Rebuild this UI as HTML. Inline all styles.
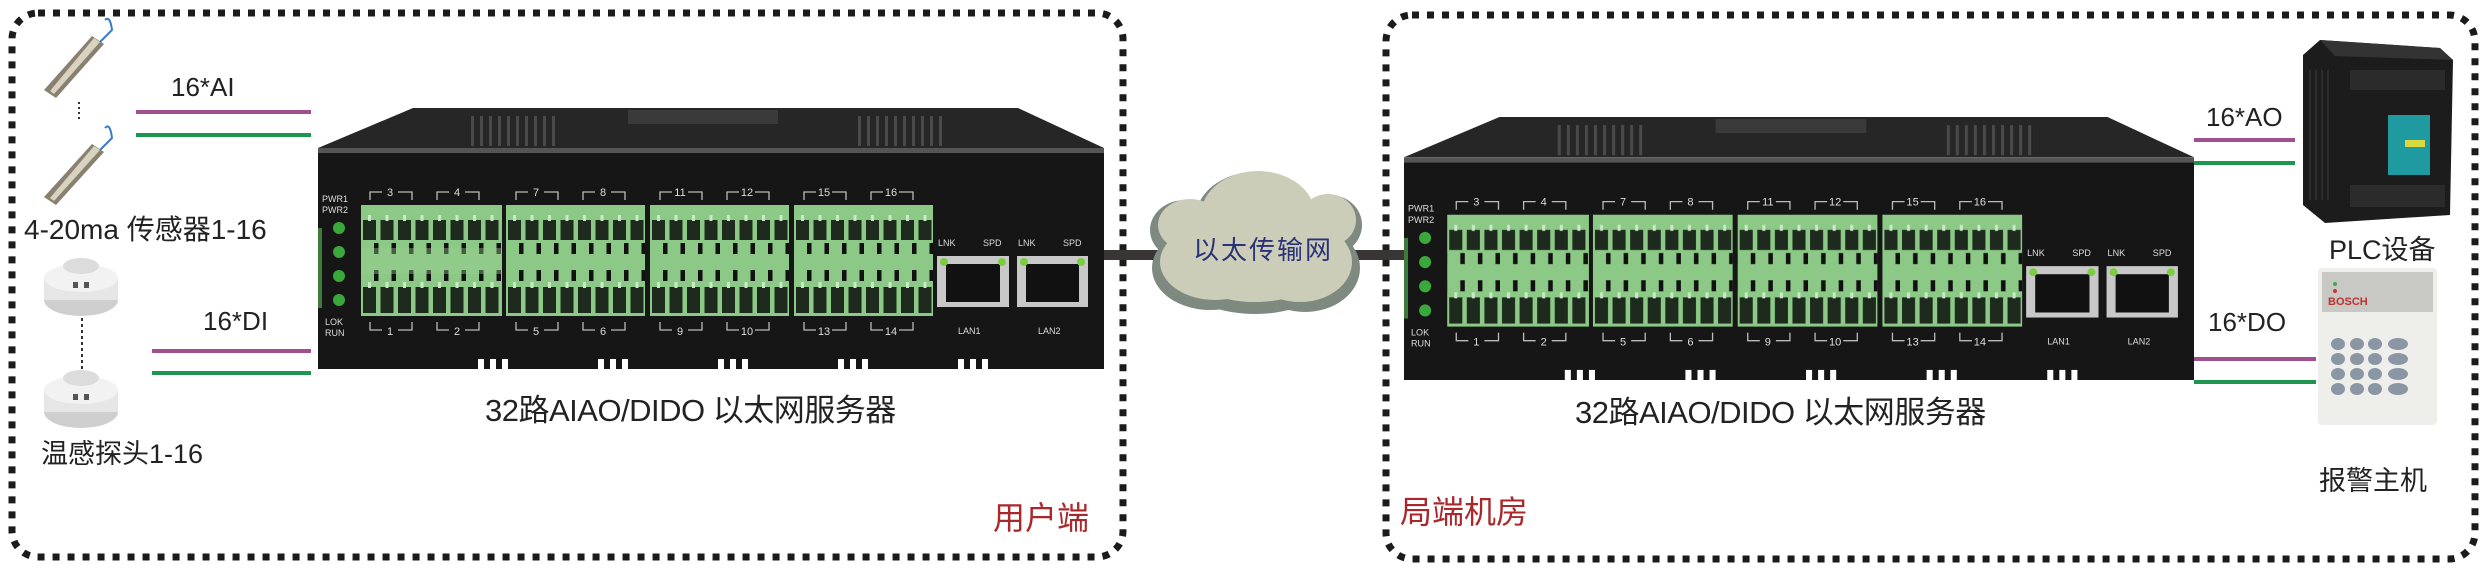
<!DOCTYPE html>
<html><head><meta charset="utf-8"><style>
html,body{margin:0;padding:0;background:#fff;}
body{width:2490px;height:573px;position:relative;overflow:hidden;font-family:"Liberation Sans","Noto Sans CJK SC",sans-serif;}
.t{position:absolute;white-space:nowrap;line-height:1;color:#222;}
svg{position:absolute;}
</style></head><body>

<svg width="2490" height="573" style="left:0;top:0">
  <rect x="12" y="13" width="1111" height="544" rx="26" fill="none" stroke="#1d1a1a" stroke-width="7" stroke-dasharray="7 8"/>
  <rect x="1386" y="15" width="1089" height="544" rx="26" fill="none" stroke="#1d1a1a" stroke-width="7" stroke-dasharray="7 8"/>
  <!-- connecting line -->
  <rect x="1100" y="250" width="310" height="10" fill="#3a3535"/>
  <!-- left signal lines -->
  <rect x="136" y="110" width="175" height="4" fill="#a0508c"/>
  <rect x="136" y="133" width="175" height="4" fill="#1f9650"/>
  <rect x="152" y="349" width="159" height="4" fill="#a0508c"/>
  <rect x="152" y="371" width="159" height="4" fill="#1f9650"/>
  <!-- right signal lines -->
  <rect x="2194" y="138" width="101" height="4" fill="#a0508c"/>
  <rect x="2194" y="161" width="101" height="4" fill="#1f9650"/>
  <rect x="2194" y="357" width="122" height="4" fill="#a0508c"/>
  <rect x="2194" y="380" width="122" height="4" fill="#1f9650"/>
  <!-- cloud -->
  <g>
    <g fill="#7e8a80">
      <ellipse cx="1210" cy="268" rx="58" ry="42"/><ellipse cx="1305" cy="268" rx="55" ry="44"/>
      <ellipse cx="1255" cy="220" rx="60" ry="48"/><ellipse cx="1330" cy="225" rx="32" ry="30"/>
      <ellipse cx="1185" cy="230" rx="35" ry="30"/><ellipse cx="1255" cy="290" rx="60" ry="24"/>
    </g>
    <g fill="#cccdb8">
      <ellipse cx="1215" cy="262" rx="55" ry="38"/><ellipse cx="1300" cy="262" rx="52" ry="40"/>
      <ellipse cx="1258" cy="215" rx="57" ry="44"/><ellipse cx="1328" cy="220" rx="28" ry="26"/>
      <ellipse cx="1190" cy="225" rx="32" ry="26"/><ellipse cx="1255" cy="280" rx="55" ry="22"/>
    </g>
  </g>
  <!-- sensor probes -->
  <g>
    <path d="M105 20 Q110 15 112 30 L100 42" stroke="#3a7ac8" stroke-width="2" fill="none"/>
    <polygon points="92,36 104,44 56,98 44,90" fill="#8a8070"/>
    <polygon points="94,38 100,42 54,94 50,91" fill="#d8d2c0"/>
    <path d="M105 128 Q110 122 112 138 L100 150" stroke="#3a7ac8" stroke-width="2" fill="none"/>
    <polygon points="92,144 104,152 56,205 44,197" fill="#8a8070"/>
    <polygon points="94,146 100,150 54,201 50,198" fill="#d8d2c0"/>
    <line x1="79" y1="102" x2="79" y2="121" stroke="#333" stroke-width="2" stroke-dasharray="2 3"/>
    <!-- smoke detectors -->
    <ellipse cx="81" cy="300" rx="37" ry="16" fill="#cfcfcf"/>
    <rect x="44" y="278" width="74" height="22" fill="#e6e6e6"/>
    <ellipse cx="81" cy="278" rx="37" ry="14" fill="#f2f2f2"/>
    <ellipse cx="81" cy="266" rx="18" ry="8" fill="#dcdcdc"/>
    <rect x="73" y="282" width="5" height="6" fill="#555"/><rect x="84" y="282" width="5" height="6" fill="#555"/>
    <ellipse cx="81" cy="412" rx="37" ry="16" fill="#cfcfcf"/>
    <rect x="44" y="390" width="74" height="22" fill="#e6e6e6"/>
    <ellipse cx="81" cy="390" rx="37" ry="14" fill="#f2f2f2"/>
    <ellipse cx="81" cy="378" rx="18" ry="8" fill="#dcdcdc"/>
    <rect x="73" y="394" width="5" height="6" fill="#555"/><rect x="84" y="394" width="5" height="6" fill="#555"/>
    <line x1="82" y1="318" x2="82" y2="369" stroke="#333" stroke-width="2" stroke-dasharray="3 3"/>
  </g>
  <!-- PLC -->
  <g>
    <polygon points="2303,55 2320,40 2440,48 2453,60 2450,215 2325,223 2303,205" fill="#1c1c1c"/>
    <polygon points="2320,40 2440,48 2453,60 2335,56" fill="#333"/>
    <rect x="2350" y="70" width="95" height="20" fill="#2b2b2b"/>
    <rect x="2350" y="185" width="95" height="22" fill="#2b2b2b"/>
    <rect x="2388" y="115" width="42" height="60" fill="#1e9aa0"/>
    <rect x="2405" y="140" width="20" height="7" fill="#d8d840"/>
    <g stroke="#333" stroke-width="1.5"><line x1="2310" y1="70" x2="2310" y2="200"/><line x1="2316" y1="70" x2="2316" y2="200"/><line x1="2322" y1="70" x2="2322" y2="200"/><line x1="2328" y1="70" x2="2328" y2="200"/></g>
  </g>
  <!-- alarm panel -->
  <g>
    <rect x="2318" y="268" width="119" height="157" rx="4" fill="#eeeeea"/>
    <rect x="2322" y="272" width="111" height="40" fill="#c8c8c4"/>
    <circle cx="2335" cy="284" r="2" fill="#4a4"/><circle cx="2335" cy="291" r="2" fill="#c33"/>
    <g fill="#8a96a4">
      <ellipse cx="2338" cy="344" rx="7" ry="6"/><ellipse cx="2357" cy="344" rx="7" ry="6"/><ellipse cx="2375" cy="344" rx="7" ry="6"/><ellipse cx="2398" cy="344" rx="10" ry="6"/>
      <ellipse cx="2338" cy="359" rx="7" ry="6"/><ellipse cx="2357" cy="359" rx="7" ry="6"/><ellipse cx="2375" cy="359" rx="7" ry="6"/><ellipse cx="2398" cy="359" rx="10" ry="6"/>
      <ellipse cx="2338" cy="374" rx="7" ry="6"/><ellipse cx="2357" cy="374" rx="7" ry="6"/><ellipse cx="2375" cy="374" rx="7" ry="6"/><ellipse cx="2398" cy="374" rx="10" ry="6"/>
      <ellipse cx="2338" cy="389" rx="7" ry="6"/><ellipse cx="2357" cy="389" rx="7" ry="6"/><ellipse cx="2375" cy="389" rx="7" ry="6"/><ellipse cx="2398" cy="389" rx="10" ry="6"/>
    </g>
  </g>
  <text x="2328" y="305" font-family="Liberation Sans" font-weight="bold" font-size="11" fill="#c03030">BOSCH</text>
</svg>

<!-- device template (left) -->
<svg style="left:318px;top:108px" width="786" height="261" viewBox="0 0 786 261" preserveAspectRatio="none">
  <defs>
    <pattern id="term" width="17.5" height="120" patternUnits="userSpaceOnUse">
      <rect x="2" y="15" width="13" height="20" fill="#1f2a1f"/>
      <rect x="2" y="82" width="13" height="26" fill="#1f2a1f"/>
      <rect x="7" y="10" width="3" height="6" fill="#c8eac4"/>
      <rect x="7" y="77" width="3" height="6" fill="#c8eac4"/>
    </pattern>
    <pattern id="hole" width="17.5" height="120" patternUnits="userSpaceOnUse">
      <rect x="13" y="38" width="10" height="11" fill="#111"/>
      <rect x="13" y="65" width="10" height="11" fill="#111"/>
    </pattern>
    <pattern id="rib" width="9" height="42" patternUnits="userSpaceOnUse">
      <rect x="0" y="0" width="3" height="42" fill="#4a4a4a"/>
    </pattern>
  </defs>
  <polygon points="95,0 700,0 786,40 0,40" fill="#262626"/>
  <rect x="150" y="8" width="90" height="30" fill="url(#rib)"/>
  <rect x="540" y="8" width="90" height="30" fill="url(#rib)"/>
  <rect x="310" y="2" width="150" height="14" fill="#3a3a3a"/>
  <rect x="0" y="40" width="786" height="5" fill="#555"/>
  <rect x="0" y="45" width="786" height="216" fill="#161616"/>
  <rect x="-2" y="120" width="6" height="80" fill="#3e7a3a"/>
  <g transform="translate(43,97)"><rect width="141" height="111" fill="#8cc886"/><rect width="141" height="111" fill="url(#term)"/><rect width="141" height="111" fill="url(#hole)"/><rect y="43" width="141" height="26" fill="#97cf90" opacity=".4"/></g>
  <g transform="translate(188,97)"><rect width="139" height="111" fill="#8cc886"/><rect width="139" height="111" fill="url(#term)"/><rect width="139" height="111" fill="url(#hole)"/></g>
  <g transform="translate(332,97)"><rect width="139" height="111" fill="#8cc886"/><rect width="139" height="111" fill="url(#term)"/><rect width="139" height="111" fill="url(#hole)"/></g>
  <g transform="translate(476,97)"><rect width="139" height="111" fill="#8cc886"/><rect width="139" height="111" fill="url(#term)"/><rect width="139" height="111" fill="url(#hole)"/></g>
  <g fill="#3aa83a"><circle cx="21" cy="120" r="6"/><circle cx="21" cy="144" r="6"/><circle cx="21" cy="168" r="6"/><circle cx="21" cy="192" r="6"/></g>
  <g font-family="Liberation Sans" font-size="9" fill="#ddd">
    <text x="4" y="94">PWR1</text><text x="4" y="105">PWR2</text>
    <text x="7" y="217">LOK</text><text x="7" y="228">RUN</text>
    <text x="620" y="138">LNK</text><text x="665" y="138">SPD</text><text x="700" y="138">LNK</text><text x="745" y="138">SPD</text>
    <text x="640" y="226">LAN1</text><text x="720" y="226">LAN2</text>
  </g>
  <g fill="#c8c8c8"><rect x="619" y="148" width="72" height="51"/><rect x="699" y="148" width="71" height="51"/></g>
  <g fill="#111"><rect x="628" y="156" width="54" height="38"/><rect x="708" y="156" width="53" height="38"/></g>
  <g fill="#7ccc40"><circle cx="626" cy="154" r="4"/><circle cx="684" cy="154" r="4"/><circle cx="706" cy="154" r="4"/><circle cx="763" cy="154" r="4"/></g>
  <g stroke="#bbb" stroke-width="1.3" fill="none">
    <path d="M52 92 V84 H64 M80 84 H94 V92"/><path d="M119 92 V84 H131 M147 84 H161 V92"/>
    <path d="M198 92 V84 H210 M226 84 H240 V92"/><path d="M265 92 V84 H277 M293 84 H307 V92"/>
    <path d="M342 92 V84 H354 M370 84 H384 V92"/><path d="M409 92 V84 H421 M437 84 H451 V92"/>
    <path d="M486 92 V84 H498 M514 84 H528 V92"/><path d="M553 92 V84 H565 M581 84 H595 V92"/>
    <path d="M52 214 V222 H64 M80 222 H94 V214"/><path d="M119 214 V222 H131 M147 222 H161 V214"/>
    <path d="M198 214 V222 H210 M226 222 H240 V214"/><path d="M265 214 V222 H277 M293 222 H307 V214"/>
    <path d="M342 214 V222 H354 M370 222 H384 V214"/><path d="M409 214 V222 H421 M437 222 H451 V214"/>
    <path d="M486 214 V222 H498 M514 222 H528 V214"/><path d="M553 214 V222 H565 M581 222 H595 V214"/>
  </g>
  <g font-family="Liberation Sans" font-size="11" fill="#ddd" text-anchor="middle">
    <text x="72" y="88">3</text><text x="139" y="88">4</text><text x="218" y="88">7</text><text x="285" y="88">8</text>
    <text x="362" y="88">11</text><text x="429" y="88">12</text><text x="506" y="88">15</text><text x="573" y="88">16</text>
    <text x="72" y="227">1</text><text x="139" y="227">2</text><text x="218" y="227">5</text><text x="285" y="227">6</text>
    <text x="362" y="227">9</text><text x="429" y="227">10</text><text x="506" y="227">13</text><text x="573" y="227">14</text>
  </g>
  <g fill="#fff"><rect x="160" y="251" width="6" height="10"/><rect x="172" y="251" width="6" height="10"/><rect x="184" y="251" width="6" height="10"/><rect x="280" y="251" width="6" height="10"/><rect x="292" y="251" width="6" height="10"/><rect x="304" y="251" width="6" height="10"/><rect x="400" y="251" width="6" height="10"/><rect x="412" y="251" width="6" height="10"/><rect x="424" y="251" width="6" height="10"/><rect x="520" y="251" width="6" height="10"/><rect x="532" y="251" width="6" height="10"/><rect x="544" y="251" width="6" height="10"/><rect x="640" y="251" width="6" height="10"/><rect x="652" y="251" width="6" height="10"/><rect x="664" y="251" width="6" height="10"/></g>
</svg>

<!-- device (right) -->
<svg style="left:1404px;top:117px" width="790" height="263" viewBox="0 0 786 261" preserveAspectRatio="none">
  <polygon points="95,0 700,0 786,40 0,40" fill="#262626"/>
  <rect x="150" y="8" width="90" height="30" fill="url(#rib)"/>
  <rect x="540" y="8" width="90" height="30" fill="url(#rib)"/>
  <rect x="310" y="2" width="150" height="14" fill="#3a3a3a"/>
  <rect x="0" y="40" width="786" height="5" fill="#555"/>
  <rect x="0" y="45" width="786" height="216" fill="#161616"/>
  <rect x="-2" y="120" width="6" height="80" fill="#3e7a3a"/>
  <g transform="translate(43,97)"><rect width="141" height="111" fill="#8cc886"/><rect width="141" height="111" fill="url(#term)"/><rect width="141" height="111" fill="url(#hole)"/></g>
  <g transform="translate(188,97)"><rect width="139" height="111" fill="#8cc886"/><rect width="139" height="111" fill="url(#term)"/><rect width="139" height="111" fill="url(#hole)"/></g>
  <g transform="translate(332,97)"><rect width="139" height="111" fill="#8cc886"/><rect width="139" height="111" fill="url(#term)"/><rect width="139" height="111" fill="url(#hole)"/></g>
  <g transform="translate(476,97)"><rect width="139" height="111" fill="#8cc886"/><rect width="139" height="111" fill="url(#term)"/><rect width="139" height="111" fill="url(#hole)"/></g>
  <g fill="#3aa83a"><circle cx="21" cy="120" r="6"/><circle cx="21" cy="144" r="6"/><circle cx="21" cy="168" r="6"/><circle cx="21" cy="192" r="6"/></g>
  <g font-family="Liberation Sans" font-size="9" fill="#ddd">
    <text x="4" y="94">PWR1</text><text x="4" y="105">PWR2</text>
    <text x="7" y="217">LOK</text><text x="7" y="228">RUN</text>
    <text x="620" y="138">LNK</text><text x="665" y="138">SPD</text><text x="700" y="138">LNK</text><text x="745" y="138">SPD</text>
    <text x="640" y="226">LAN1</text><text x="720" y="226">LAN2</text>
  </g>
  <g fill="#c8c8c8"><rect x="619" y="148" width="72" height="51"/><rect x="699" y="148" width="71" height="51"/></g>
  <g fill="#111"><rect x="628" y="156" width="54" height="38"/><rect x="708" y="156" width="53" height="38"/></g>
  <g fill="#7ccc40"><circle cx="626" cy="154" r="4"/><circle cx="684" cy="154" r="4"/><circle cx="706" cy="154" r="4"/><circle cx="763" cy="154" r="4"/></g>
  <g stroke="#bbb" stroke-width="1.3" fill="none">
    <path d="M52 92 V84 H64 M80 84 H94 V92"/><path d="M119 92 V84 H131 M147 84 H161 V92"/>
    <path d="M198 92 V84 H210 M226 84 H240 V92"/><path d="M265 92 V84 H277 M293 84 H307 V92"/>
    <path d="M342 92 V84 H354 M370 84 H384 V92"/><path d="M409 92 V84 H421 M437 84 H451 V92"/>
    <path d="M486 92 V84 H498 M514 84 H528 V92"/><path d="M553 92 V84 H565 M581 84 H595 V92"/>
    <path d="M52 214 V222 H64 M80 222 H94 V214"/><path d="M119 214 V222 H131 M147 222 H161 V214"/>
    <path d="M198 214 V222 H210 M226 222 H240 V214"/><path d="M265 214 V222 H277 M293 222 H307 V214"/>
    <path d="M342 214 V222 H354 M370 222 H384 V214"/><path d="M409 214 V222 H421 M437 222 H451 V214"/>
    <path d="M486 214 V222 H498 M514 222 H528 V214"/><path d="M553 214 V222 H565 M581 222 H595 V214"/>
  </g>
  <g font-family="Liberation Sans" font-size="11" fill="#ddd" text-anchor="middle">
    <text x="72" y="88">3</text><text x="139" y="88">4</text><text x="218" y="88">7</text><text x="285" y="88">8</text>
    <text x="362" y="88">11</text><text x="429" y="88">12</text><text x="506" y="88">15</text><text x="573" y="88">16</text>
    <text x="72" y="227">1</text><text x="139" y="227">2</text><text x="218" y="227">5</text><text x="285" y="227">6</text>
    <text x="362" y="227">9</text><text x="429" y="227">10</text><text x="506" y="227">13</text><text x="573" y="227">14</text>
  </g>
  <g fill="#fff"><rect x="160" y="251" width="6" height="10"/><rect x="172" y="251" width="6" height="10"/><rect x="184" y="251" width="6" height="10"/><rect x="280" y="251" width="6" height="10"/><rect x="292" y="251" width="6" height="10"/><rect x="304" y="251" width="6" height="10"/><rect x="400" y="251" width="6" height="10"/><rect x="412" y="251" width="6" height="10"/><rect x="424" y="251" width="6" height="10"/><rect x="520" y="251" width="6" height="10"/><rect x="532" y="251" width="6" height="10"/><rect x="544" y="251" width="6" height="10"/><rect x="640" y="251" width="6" height="10"/><rect x="652" y="251" width="6" height="10"/><rect x="664" y="251" width="6" height="10"/></g>
</svg>

<div class="t" style="left:171px;top:74px;font-size:26px;">16*AI</div>
<div class="t" style="left:203px;top:308px;font-size:26px;">16*DI</div>
<div class="t" style="left:24px;top:216px;font-size:28px;">4-20ma 传感器1-16</div>
<div class="t" style="left:41px;top:441px;font-size:27px;">温感探头1-16</div>
<div class="t" style="left:485px;top:395px;font-size:31px;letter-spacing:-0.5px;">32路AIAO/DIDO 以太网服务器</div>
<div class="t" style="left:993px;top:502px;font-size:32px;color:#a8282c;">用户端</div>
<div class="t" style="left:1193px;top:237px;font-size:26px;color:#2a3278;letter-spacing:2px;">以太传输网</div>
<div class="t" style="left:1575px;top:397px;font-size:31px;letter-spacing:-0.5px;">32路AIAO/DIDO 以太网服务器</div>
<div class="t" style="left:1400px;top:496px;font-size:32px;color:#a8282c;">局端机房</div>
<div class="t" style="left:2206px;top:104px;font-size:26px;">16*AO</div>
<div class="t" style="left:2208px;top:309px;font-size:26px;">16*DO</div>
<div class="t" style="left:2329px;top:237px;font-size:27px;">PLC设备</div>
<div class="t" style="left:2319px;top:468px;font-size:27px;">报警主机</div>
</body></html>
